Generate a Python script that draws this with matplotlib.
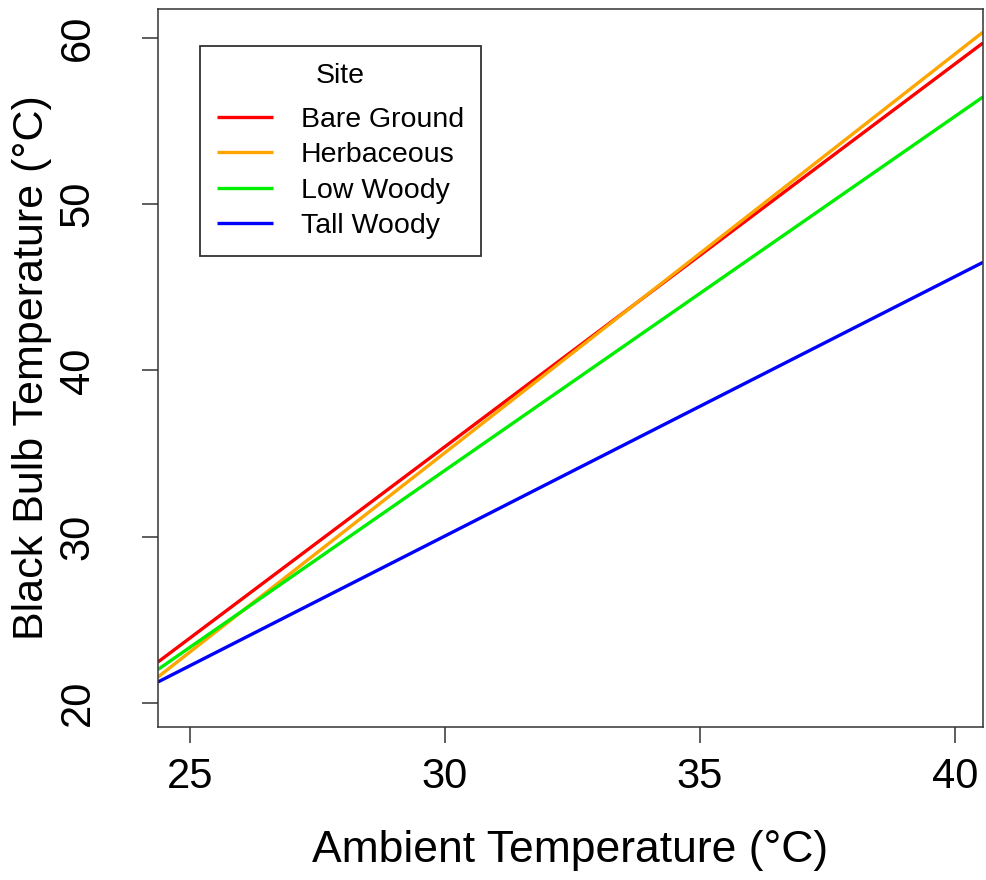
import numpy as np
import matplotlib.pyplot as plt

plt.rcParams['font.family'] = ['Liberation Sans', 'DejaVu Sans']

# fitted lines, read at the two edges of the plot
x_ends = [24.37, 40.55]
bare_ground = [22.45, 59.7]
herbaceous = [21.55, 60.35]
low_woody = [22.0, 56.45]
tall_woody = [21.25, 46.5]

sites = ['Bare Ground', 'Herbaceous', 'Low Woody', 'Tall Woody']
colors = ['#FF0000', '#FFA500', '#00EE00', '#0000FF']
series = [bare_ground, herbaceous, low_woody, tall_woody]

fig = plt.figure(figsize=(9.87, 8.8), dpi=100)
ax = fig.add_axes([0.160, 0.174, 0.836, 0.816])

for name, col, ys in zip(sites, colors, series):
    ax.plot(x_ends, ys, color=col, lw=2.4, label=name, solid_capstyle='butt')

ax.set_xlim(24.37, 40.55)
ax.set_ylim(18.55, 61.75)
ax.set_xticks([25, 30, 35, 40])
ax.set_yticks([20, 30, 40, 50, 60])
for lab in ax.get_yticklabels():
    lab.set_rotation(90)
    lab.set_va('center')
ax.tick_params(labelsize=30, length=11.5, width=1.1, pad=10, color='#333333')
ax.tick_params(axis='y', pad=32)
for s in ax.spines.values():
    s.set_linewidth(1.1)
    s.set_color('#333333')

ax.set_xlabel('Ambient Temperature (°C)', fontsize=32, labelpad=24)
ax.set_ylabel('Black Bulb Temperature (°C)', fontsize=31, labelpad=4)

leg = ax.legend(loc='upper left', bbox_to_anchor=(0.051, 0.948), title='Site',
                fontsize=20.5, title_fontsize=20.5, frameon=True, fancybox=False,
                edgecolor='black', handlelength=1.95, handletextpad=1.0,
                labelspacing=0.32, borderpad=0.6, borderaxespad=0)
leg.get_frame().set_linewidth(1.3)
leg._legend_box.sep = 13
for ln in leg.get_lines():
    ln.set_linewidth(2.4)

plt.savefig('out.png', dpi=100)
